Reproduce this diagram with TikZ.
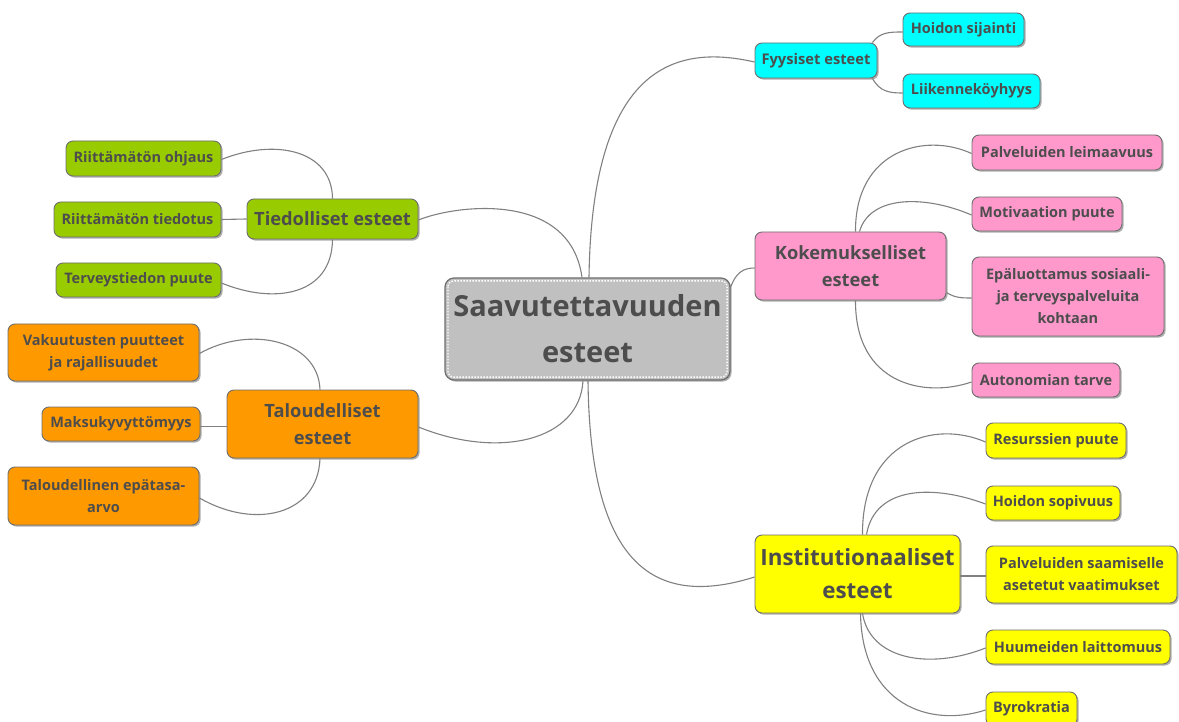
\documentclass[tikz,border=0pt]{standalone}
\usepackage{fontspec}
\setmainfont{Open Sans}
\usetikzlibrary{shadows}
\definecolor{txt}{HTML}{4D4D4D}
\definecolor{edge}{HTML}{808080}
\definecolor{bord}{HTML}{6E6E6E}
\definecolor{ccyan}{HTML}{00FFFF}
\definecolor{cpink}{HTML}{FF99CC}
\definecolor{cyel}{HTML}{FFFF00}
\definecolor{cgreen}{HTML}{99CC00}
\definecolor{corange}{HTML}{FF9900}
\definecolor{cgray}{HTML}{C0C0C0}
\tikzset{
  box/.style={rounded corners=7pt, draw=bord, line width=0.9pt, text=txt, align=center, inner sep=0pt,
    drop shadow={shadow xshift=1.6pt, shadow yshift=-1.6pt, opacity=0.45, fill=black!70}},
  leaf/.style={box, font=\fontsize{14.5}{22}\selectfont\bfseries},
  branch/.style={box, font=\fontsize{18.3}{27}\selectfont\bfseries},
  hub/.style={box, font=\fontsize{29}{46}\selectfont\bfseries, fill=cgray, line width=1.2pt, rounded corners=9pt},
  conn/.style={draw=edge, line width=1.1pt},
}
\begin{document}
\begin{tikzpicture}[x=1pt,y=-1pt]
\useasboundingbox (0,0) rectangle (1179,722);
% hub
\node[hub, minimum width=285, minimum height=102] (c) at (587.5,329) {Saavutettavuuden\\esteet};
\draw[white, line width=1.3pt, dash pattern=on 1.5pt off 1.5pt, rounded corners=6pt]
  ([shift={(3.5,3.5)}]c.north west) rectangle ([shift={(-3.5,-3.5)}]c.south east);
% branches
\node[branch, fill=ccyan, font=\fontsize{14.7}{20}\selectfont\bfseries, minimum width=122, minimum height=35] (fy) at (816,60.5) {Fyysiset esteet};
\node[branch, fill=cpink, minimum width=191, minimum height=68] (ko) at (850.5,266) {Kokemukselliset\\esteet};
\node[branch, fill=cyel, font=\fontsize{22.4}{33}\selectfont\bfseries, minimum width=205, minimum height=78] (in) at (857.5,574) {Institutionaaliset\\esteet};
\node[branch, fill=cgreen, minimum width=171, minimum height=40] (ti) at (332.5,219) {Tiedolliset esteet};
\node[branch, fill=corange, minimum width=191, minimum height=68] (ta) at (322.5,424) {Taloudelliset\\esteet};
% leaves
\node[leaf, fill=ccyan, minimum width=121, minimum height=33] (hs) at (963.5,29.5) {Hoidon sijainti};
\node[leaf, fill=ccyan, minimum width=137, minimum height=34] (lk) at (971.5,91) {Liikenneköyhyys};
\node[leaf, fill=cpink, minimum width=190, minimum height=35] (pl) at (1067,152.5) {Palveluiden leimaavuus};
\node[leaf, fill=cpink, minimum width=150, minimum height=34] (mp) at (1047,214) {Motivaation puute};
\node[leaf, fill=cpink, minimum width=192, minimum height=79] (ep) at (1068,296.5) {Epäluottamus sosiaali-\\ja terveyspalveluita\\kohtaan};
\node[leaf, fill=cpink, minimum width=148, minimum height=34] (at) at (1046,380) {Autonomian tarve};
\node[leaf, fill=cyel, minimum width=140, minimum height=35] (rp) at (1056,440.5) {Resurssien puute};
\node[leaf, fill=cyel, minimum width=134, minimum height=34] (hp) at (1053,503) {Hoidon sopivuus};
\node[leaf, fill=cyel, minimum width=191, minimum height=57] (ps) at (1081.5,574.5) {Palveluiden saamiselle\\asetetut vaatimukset};
\node[leaf, fill=cyel, minimum width=184, minimum height=34] (hl) at (1078,647) {Huumeiden laittomuus};
\node[leaf, fill=cyel, minimum width=91, minimum height=34] (by) at (1031.5,709) {Byrokratia};
\node[leaf, fill=cgreen, minimum width=155, minimum height=35] (ro) at (143.5,158.5) {Riittämätön ohjaus};
\node[leaf, fill=cgreen, minimum width=167, minimum height=35] (rt) at (137.5,219.5) {Riittämätön tiedotus};
\node[leaf, fill=cgreen, minimum width=165, minimum height=34] (tp) at (138.5,280) {Terveystiedon puute};
\node[leaf, fill=corange, minimum width=191, minimum height=57] (va) at (103.5,352.5) {Vakuutusten puutteet\\ja rajallisuudet};
\node[leaf, fill=corange, minimum width=158, minimum height=34] (mk) at (121,424) {Maksukyvyttömyys};
\node[leaf, fill=corange, minimum width=191, minimum height=58] (te) at (103.5,496) {Taloudellinen epätasa-\\arvo};
% hub connectors
\path[conn] ([xshift=1.5]c.north) .. controls (592,60) and (680,45) .. ([yshift=-1.5]fy.west);
\path[conn] ([xshift=-5.5]c.north) .. controls (570,190) and (455,205) .. ([yshift=-1]ti.east);
\path[conn] ([yshift=-10]c.north east) .. controls (736,272) and (744,268) .. ([yshift=-2]ko.west);
\path[conn] ([xshift=0.5]c.south) .. controls (590,560) and (650,610) .. ([yshift=-3]in.west);
\path[conn] ([xshift=-4.5]c.south) .. controls (580,440) and (500,460) .. ([yshift=-3]ta.east);
% Fyysiset children
\path[conn] ([xshift=-5]fy.north east) .. controls (880,32) and (890,32) .. ([yshift=-2.5]hs.west);
\path[conn] ([xshift=-5]fy.south east) .. controls (880,92) and (890,93) .. ([yshift=-2]lk.west);
% Kokemukselliset children
\path[conn] ([xshift=5]ko.north) .. controls (855,150) and (925,132) .. ([yshift=-1]pl.west);
\path[conn] ([xshift=9]ko.north) .. controls (870,195) and (925,195) .. ([yshift=-1]mp.west);
\path[conn] ([yshift=8]ko.south east) .. controls (955,298) and (962,298) .. ([yshift=-1.5]ep.west);
\path[conn] ([xshift=5]ko.south) .. controls (855,385) and (925,398) .. ([yshift=-2]at.west);
% Institutionaaliset children
\path[conn] ([xshift=5]in.north) .. controls (862,440) and (935,420) .. ([yshift=-1.5]rp.west);
\path[conn] ([xshift=9]in.north) .. controls (875,485) and (935,485) .. ([yshift=-1]hp.west);
\path[conn] ([yshift=-2]in.east) -- ([yshift=-1.5]ps.west);
\path[conn] ([xshift=5]in.south) .. controls (870,660) and (930,670) .. ([yshift=-1]hl.west);
\path[conn] ([xshift=3]in.south) .. controls (862,705) and (930,728) .. ([yshift=-1]by.west);
% Tiedolliset children
\path[conn] (ti.north) .. controls (332,150) and (275,138) .. ([yshift=-1]ro.east);
\path[conn] (ti.west) -- (rt.east);
\path[conn] (ti.south) .. controls (332,295) and (275,305) .. ([yshift=-3]tp.east);
% Taloudelliset children
\path[conn] ([xshift=-2.5]ta.north) .. controls (318,340) and (250,325) .. ([yshift=-1]va.east);
\path[conn] ([yshift=-2.5]ta.west) -- ([yshift=-2.5]mk.east);
\path[conn] ([xshift=-2.5]ta.south) .. controls (318,515) and (255,530) .. ([yshift=-2]te.east);
\end{tikzpicture}
\end{document}
